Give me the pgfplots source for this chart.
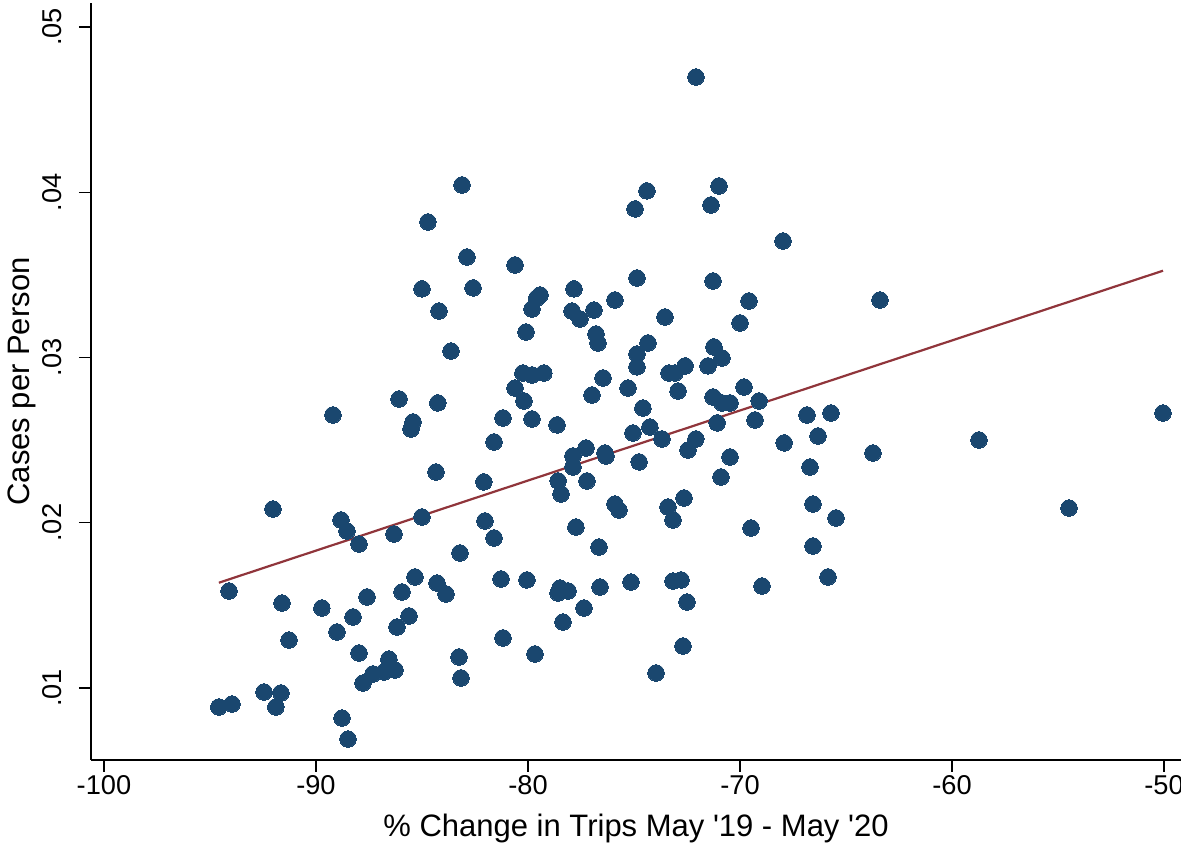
\documentclass[border=0pt]{standalone}
\usepackage{fontspec}
\setmainfont{Liberation Sans}[Ligatures=TeXOff]
\usepackage{pgfplots}
\pgfplotsset{compat=1.18}
\definecolor{stnavy}{HTML}{1A476F}
\definecolor{stmaroon}{HTML}{90353B}
\pgfplotstableread{
x y
-94.58 0.00885
-93.96 0.00903
-94.10 0.01587
-92.45 0.00976
-91.65 0.00970
-91.89 0.00885
-92.03 0.02083
-91.60 0.01514
-91.27 0.01290
-89.72 0.01484
-89.20 0.02652
-89.01 0.01339
-88.82 0.02017
-88.54 0.01950
-88.77 0.00818
-88.49 0.00691
-88.25 0.01430
-87.97 0.01871
-87.97 0.01212
-87.78 0.01030
-87.59 0.01551
-87.31 0.01085
-86.79 0.01097
-86.56 0.01175
-86.27 0.01109
-86.18 0.01369
-86.32 0.01932
-86.08 0.02749
-85.94 0.01581
-85.61 0.01436
-85.52 0.02567
-85.42 0.02610
-85.33 0.01672
-85.00 0.03415
-85.00 0.02035
-84.72 0.03820
-84.34 0.02307
-84.29 0.01635
-84.20 0.03281
-84.25 0.02725
-83.87 0.01569
-83.63 0.03039
-83.11 0.04044
-83.21 0.01817
-83.25 0.01188
-83.16 0.01061
-82.88 0.03608
-82.59 0.03421
-82.08 0.02247
-82.03 0.02011
-81.60 0.01908
-81.60 0.02489
-81.18 0.02634
-81.27 0.01660
-81.18 0.01303
-80.61 0.03560
-80.61 0.02815
-80.24 0.02906
-80.19 0.02737
-80.09 0.03154
-80.05 0.01654
-79.81 0.03293
-79.81 0.02894
-79.81 0.02628
-79.67 0.01206
-79.43 0.03378
-79.58 0.03360
-79.25 0.02906
-78.63 0.02592
-78.58 0.02253
-78.44 0.02174
-78.58 0.01575
-78.49 0.01605
-78.35 0.01399
-78.11 0.01587
-77.88 0.02337
-77.88 0.02404
-77.92 0.03281
-77.83 0.03415
-77.74 0.01974
-77.55 0.03233
-77.36 0.01484
-77.26 0.02452
-77.22 0.02253
-76.98 0.02773
-76.89 0.03287
-76.79 0.03142
-76.70 0.03088
-76.65 0.01853
-76.60 0.01611
-76.46 0.02876
-76.37 0.02422
-76.32 0.02404
-75.90 0.03348
-75.90 0.02113
-75.71 0.02077
-75.28 0.02815
-75.14 0.01641
-75.05 0.02543
-74.95 0.03899
-74.86 0.03481
-74.86 0.03021
-74.86 0.02943
-74.76 0.02368
-74.58 0.02694
-74.39 0.04008
-74.34 0.03088
-74.25 0.02579
-73.96 0.01091
-73.68 0.02507
-73.54 0.03245
-73.35 0.02906
-73.40 0.02095
-73.16 0.02017
-73.07 0.02906
-73.16 0.01647
-72.92 0.02797
-72.78 0.01654
-72.69 0.01254
-72.59 0.02949
-72.64 0.02150
-72.50 0.01520
-72.45 0.02440
-72.08 0.04697
-72.08 0.02507
-71.51 0.02949
-71.37 0.03923
-71.27 0.03463
-71.23 0.03064
-71.27 0.02761
-71.08 0.02604
-70.99 0.04038
-70.90 0.02277
-70.85 0.02997
-70.85 0.02725
-70.47 0.02725
-70.47 0.02398
-70.00 0.03209
-69.81 0.02821
-69.58 0.03342
-69.48 0.01968
-69.29 0.02622
-69.10 0.02737
-68.96 0.01617
-67.97 0.03705
-67.92 0.02483
-66.84 0.02652
-66.70 0.02337
-66.56 0.02113
-66.56 0.01859
-66.32 0.02525
-65.85 0.01672
-65.71 0.02664
-65.47 0.02029
-63.73 0.02422
-63.40 0.03348
-58.73 0.02501
-54.48 0.02089
-50.05 0.02664
}\scatterdata
\begin{document}
\begin{tikzpicture}
\path[use as bounding box] (0,0) rectangle (590.5pt,422pt);
\begin{axis}[
  at={(45.5pt,42pt)}, anchor=south west,
  scale only axis, width=545pt, height=378.5pt,
  xmin=-100.61, xmax=-49.2, ymin=0.005643, ymax=0.05145,
  scaled x ticks=false, scaled y ticks=false,
  axis x line*=bottom, axis y line*=left,
  axis line style={-, black, line width=0.7pt},
  xtick={-100,-90,-80,-70,-60,-50},
  xticklabels={-100,-90,-80,-70,-60,-50},
  ytick={0.01,0.02,0.03,0.04,0.05},
  yticklabels={.01,.02,.03,.04,.05},
  tick align=outside, major tick length=6pt,
  tick style={black, line width=0.7pt},
  ticklabel style={font=\fontsize{13.6}{16}\selectfont},
  x tick label style={inner sep=0pt, anchor=north, yshift=-1.5pt},
  y tick label style={inner sep=0pt, xshift=-8.5pt, rotate=90, anchor=south},
  xlabel={\% Change in Trips May '19 - May '20},
  ylabel={Cases per Person},
  every axis x label/.style={at={(axis description cs:0.5,0)}, anchor=center, yshift=-34pt, font=\fontsize{15.5}{18}\selectfont},
  every axis y label/.style={at={(axis description cs:0,0.5)}, xshift=-34.5pt, anchor=center, rotate=90, font=\fontsize{15.5}{18}\selectfont},
  clip=false,
]
\addplot[only marks, mark=*, mark size=4.15pt, mark options={fill=stnavy, draw=stnavy, line width=0pt}] table[x=x,y=y] {\scatterdata};
\addplot[stmaroon, line width=1.1pt] coordinates {(-94.58,0.01637) (-50.05,0.03525)};
\end{axis}
\end{tikzpicture}
\end{document}
